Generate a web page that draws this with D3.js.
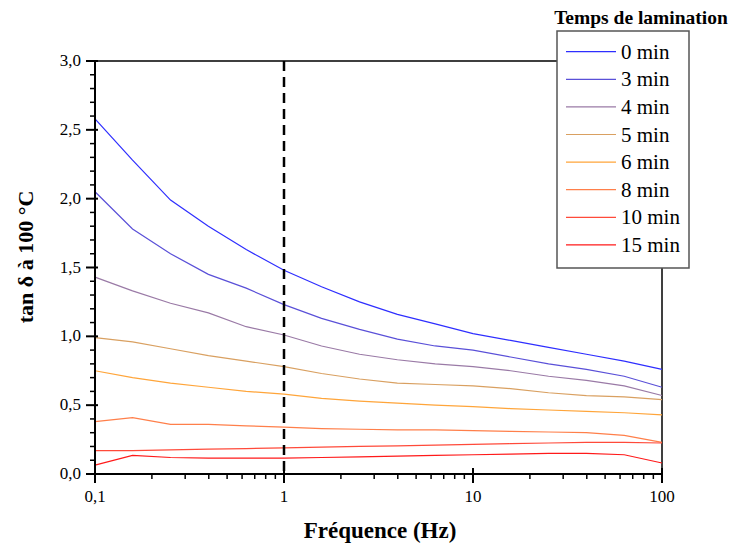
<!DOCTYPE html>
<html><head><meta charset="utf-8">
<script src="https://cdn.jsdelivr.net/npm/d3@7"></script>
<style>body{margin:0;background:#fff}svg{display:block}</style>
</head><body>
<svg id="c" width="731" height="546"></svg>
<script>
const freqs = [0.1, 0.158, 0.251, 0.398, 0.631, 1, 1.58, 2.51, 3.98, 6.31, 10, 15.8, 25.1, 39.8, 63.1, 100];
const seriesNames = ["0 min", "3 min", "4 min", "5 min", "6 min", "8 min", "10 min", "15 min"];
const s0  = [2.58, 2.28, 1.99, 1.80, 1.63, 1.48, 1.36, 1.25, 1.16, 1.09, 1.02, 0.97, 0.92, 0.87, 0.82, 0.76];
const s3  = [2.05, 1.78, 1.60, 1.45, 1.35, 1.23, 1.13, 1.05, 0.98, 0.93, 0.90, 0.85, 0.80, 0.76, 0.71, 0.63];
const s4  = [1.43, 1.33, 1.24, 1.17, 1.07, 1.01, 0.93, 0.87, 0.83, 0.80, 0.78, 0.75, 0.71, 0.68, 0.64, 0.57];
const s5  = [0.99, 0.96, 0.91, 0.86, 0.82, 0.78, 0.73, 0.69, 0.66, 0.65, 0.64, 0.62, 0.59, 0.57, 0.56, 0.54];
const s6  = [0.75, 0.70, 0.66, 0.63, 0.60, 0.58, 0.55, 0.53, 0.515, 0.50, 0.49, 0.475, 0.465, 0.455, 0.445, 0.43];
const s8  = [0.38, 0.41, 0.36, 0.36, 0.35, 0.34, 0.33, 0.325, 0.32, 0.32, 0.315, 0.31, 0.305, 0.30, 0.28, 0.23];
const s10 = [0.17, 0.17, 0.175, 0.18, 0.185, 0.19, 0.195, 0.20, 0.205, 0.21, 0.215, 0.22, 0.225, 0.23, 0.23, 0.225];
const s15 = [0.065, 0.135, 0.12, 0.115, 0.115, 0.115, 0.12, 0.125, 0.13, 0.135, 0.14, 0.145, 0.15, 0.15, 0.14, 0.08];
const seriesValues = [s0, s3, s4, s5, s6, s8, s10, s15];
const colors = ["#2e2eff", "#5a50d8", "#9a7aa6", "#d9a061", "#ffa53a", "#ff7f4a", "#ff4a3a", "#ff1a1a"];
const xTicks = [0.1, 1, 10, 100];
const xTickLabels = ["0,1", "1", "10", "100"];
const yTicks = [0, 0.5, 1, 1.5, 2, 2.5, 3];
const legendTitle = "Temps de lamination";
const xTitle = "Fréquence (Hz)";
const yTitle = "tan δ à 100 °C";
const refFreq = 1;

const svg = d3.select("#c");
const L = 95, R = 662, T = 61, B = 474;
const x = d3.scaleLog().domain([0.1, 100]).range([L, R]);
const y = d3.scaleLinear().domain([0, 3]).range([B, T]);
const serif = "'Liberation Serif','Times New Roman',serif";

// frame
svg.append("rect").attr("x", L).attr("y", T).attr("width", R - L).attr("height", B - T)
  .attr("fill", "none").attr("stroke", "#000").attr("stroke-width", 1.5);

// lines
const line = d3.line().x((d, i) => x(freqs[i])).y(d => y(d));
seriesValues.forEach((vals, k) => {
  svg.append("path").attr("d", line(vals)).attr("fill", "none")
    .attr("stroke", colors[k]).attr("stroke-width", 1.2);
});

// dashed reference line
svg.append("line").attr("x1", x(refFreq)).attr("x2", x(refFreq)).attr("y1", T).attr("y2", B)
  .attr("stroke", "#000").attr("stroke-width", 2.5).attr("stroke-dasharray", "10,6");

// x axis
const minorX = [];
[0.1, 1, 10].forEach(d => { for (let m = 2; m <= 9; m++) minorX.push(d * m); });
const gx = svg.append("g");
gx.append("line").attr("x1", L).attr("x2", R).attr("y1", B).attr("y2", B).attr("stroke", "#000").attr("stroke-width", 2);
gx.selectAll(".mx").data(minorX).join("line")
  .attr("x1", d => x(d)).attr("x2", d => x(d)).attr("y1", B).attr("y2", B + 5)
  .attr("stroke", "#000").attr("stroke-width", 1.5);
gx.selectAll(".Mx").data(xTicks).join("line")
  .attr("x1", d => x(d)).attr("x2", d => x(d)).attr("y1", B - 6).attr("y2", B + 9)
  .attr("stroke", "#000").attr("stroke-width", 2);
gx.selectAll("text").data(xTicks).join("text")
  .attr("x", d => x(d)).attr("y", B + 28).attr("text-anchor", "middle")
  .attr("font-family", serif).attr("font-size", 17).text((d, i) => xTickLabels[i]);

// y axis
const gy = svg.append("g");
gy.append("line").attr("x1", L).attr("x2", L).attr("y1", T).attr("y2", B).attr("stroke", "#000").attr("stroke-width", 2);
const minorY = d3.range(0, 3.001, 0.1).map(v => +v.toFixed(1)).filter(v => Math.round(v * 10) % 5 !== 0);
gy.selectAll(".my").data(minorY).join("line")
  .attr("x1", L - 5).attr("x2", L).attr("y1", d => y(d)).attr("y2", d => y(d))
  .attr("stroke", "#000").attr("stroke-width", 1.5);
gy.selectAll(".My").data(yTicks).join("line")
  .attr("x1", L - 9).attr("x2", L + 3).attr("y1", d => y(d)).attr("y2", d => y(d))
  .attr("stroke", "#000").attr("stroke-width", 2);
gy.selectAll("text").data(yTicks).join("text")
  .attr("x", L - 14).attr("y", d => y(d) + 5).attr("text-anchor", "end")
  .attr("font-family", serif).attr("font-size", 17).text(d => d3.format(".1f")(d).replace(".", ","));

// axis titles
svg.append("text").attr("x", 380).attr("y", 538).attr("text-anchor", "middle")
  .attr("font-family", serif).attr("font-size", 23).attr("font-weight", "bold").text(xTitle);
svg.append("text").attr("transform", `translate(33,257) rotate(-90)`).attr("text-anchor", "middle")
  .attr("font-family", serif).attr("font-size", 22).attr("font-weight", "bold").text(yTitle);

// legend
svg.append("text").attr("x", 641).attr("y", 24).attr("text-anchor", "middle")
  .attr("font-family", serif).attr("font-size", 19.5).attr("font-weight", "bold").text(legendTitle);
const lg = svg.append("g");
lg.append("rect").attr("x", 557).attr("y", 31).attr("width", 132).attr("height", 237)
  .attr("fill", "#fff").attr("stroke", "#555").attr("stroke-width", 1.5);
seriesNames.forEach((n, k) => {
  const yy = 51.7 + k * 27.6;
  lg.append("line").attr("x1", 566).attr("x2", 616).attr("y1", yy).attr("y2", yy)
    .attr("stroke", colors[k]).attr("stroke-width", 1.2);
  lg.append("text").attr("x", 621).attr("y", yy + 7).attr("font-family", serif).attr("font-size", 21).text(n);
});
</script>
</body></html>
